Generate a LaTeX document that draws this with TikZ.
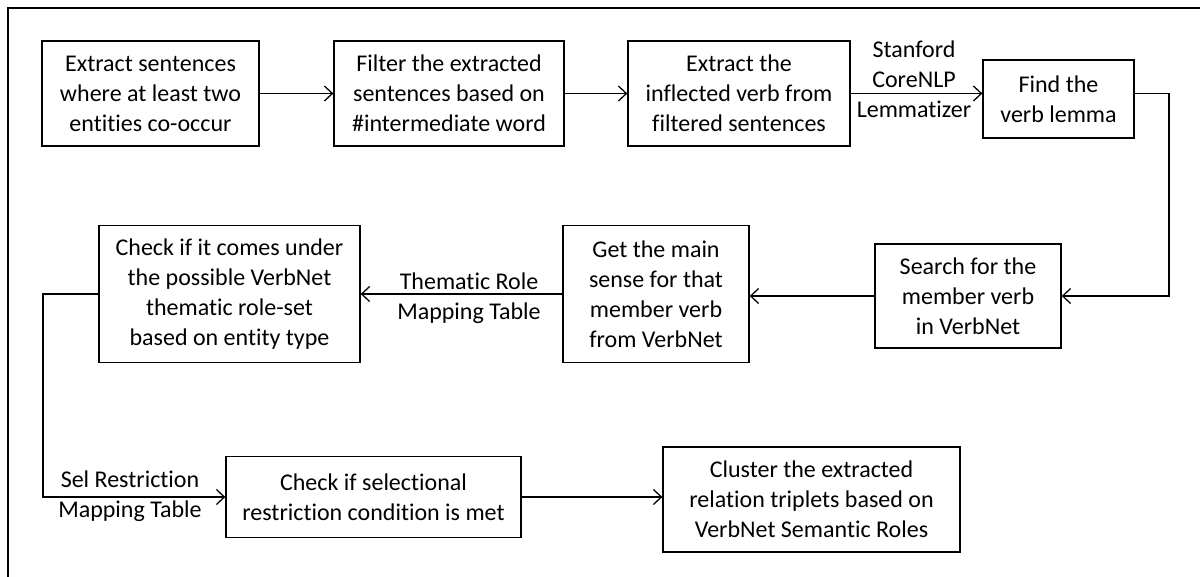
\documentclass[tikz,border=0pt]{standalone}
\usepackage{fontspec}
\setmainfont{Carlito}[Ligatures=NoCommon]
\usetikzlibrary{arrows.meta}
\tikzset{
  box/.style={draw, line width=1.3pt, align=center, inner sep=0pt, font=\fontsize{24}{30}\selectfont},
  lbl/.style={align=center, inner sep=0pt, font=\fontsize{24}{30}\selectfont},
  conn/.style={line width=1.3pt, -{Straight Barb[length=8pt,width=15pt,line width=1.3pt]}},
  frame/.style={line width=1.8pt}
}
\begin{document}
\begin{tikzpicture}[x=1pt,y=-1pt]
\useasboundingbox (0,0) rectangle (1200,577);
\draw[frame] (8,585) -- (8,8) -- (1205,8);
% row 1
\node[box, minimum width=217pt, minimum height=105pt] (b1) at (150.5,93.5) {Extract sentences\\where at least two\\entities co-occur};
\node[box, minimum width=230pt, minimum height=105pt] (b2) at (449,93.5) {Filter the extracted\\sentences based on\\\#intermediate word};
\node[box, minimum width=222pt, minimum height=105pt] (b3) at (739,93.5) {Extract the\\inflected verb from\\filtered sentences};
\node[box, minimum width=151pt, minimum height=78pt] (b4) at (1058.5,99) {Find the\\verb lemma};
\node[lbl] (l1) at (914,79) {Stanford\\CoreNLP\\Lemmatizer};
% row 2
\node[box, minimum width=186pt, minimum height=104pt] (s) at (968,296) {Search for the\\member verb\\in VerbNet};
\node[box, minimum width=186pt, minimum height=137pt] (g) at (656,294) {Get the main\\sense for that\\member verb\\from VerbNet};
\node[box, minimum width=261pt, minimum height=137pt] (c) at (229.5,294) {Check if it comes under\\the possible VerbNet\\thematic role-set\\based on entity type};
\node[lbl] (l2) at (469,298) {Thematic Role\\Mapping Table};
% row 3
\node[box, minimum width=295pt, minimum height=81pt] (sel) at (373.5,497) {Check if selectional\\restriction condition is met};
\node[box, minimum width=297pt, minimum height=105pt] (cl) at (811.5,499.5) {Cluster the extracted\\relation triplets based on\\VerbNet Semantic Roles};
\node[lbl] (l3) at (130,496) {Sel Restriction\\Mapping Table};
% connectors
\coordinate (r) at (1169,93.5);
\coordinate (lft) at (43,0);
\draw[conn] (b1) -- (b2);
\draw[conn] (b2) -- (b3);
\draw[conn] (b3.east) -- (b3.east -| b4.west);
\draw[conn] (b4.east |- r) -- (r) |- (s.east);
\draw[conn] (s.west) -- (s.west -| g.east);
\draw[conn] (g.west) -- (g.west -| c.east);
\draw[conn] (c.west) -- (c.west -| lft) |- (sel.west);
\draw[conn] (sel.east) -- (sel.east -| cl.west);
\end{tikzpicture}
\end{document}
